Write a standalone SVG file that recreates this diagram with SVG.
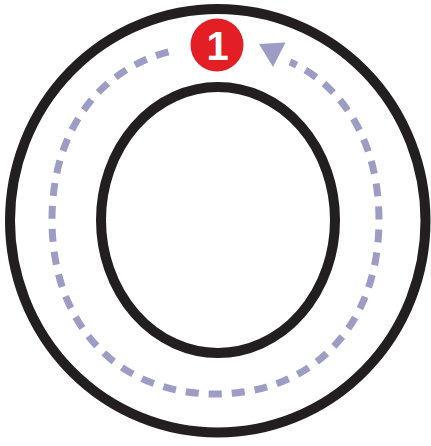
<svg xmlns="http://www.w3.org/2000/svg" width="431" height="446" viewBox="0 0 431 446">
  <style>
    .ring { fill: none; stroke: #231f20; stroke-width: 10; }
    .flow { fill: none; stroke: #9c9cc5; stroke-width: 7; stroke-dasharray: 13 10; }
    .head { fill: #9c9cc5; }
    .badge { fill: #e31e25; }
    .num { fill: #ffffff; font-family: "Liberation Sans", Arial, sans-serif; font-weight: bold; font-size: 40px; text-anchor: middle; }
  </style>
  <rect width="431" height="446" fill="#ffffff"/>
  <g id="outer-ring">
    <ellipse class="ring" cx="217.75" cy="220.75" rx="207.75" ry="211.75"/>
  </g>
  <g id="inner-ring">
    <ellipse class="ring" cx="218" cy="220" rx="117" ry="133"/>
  </g>
  <g id="connectors">
    <path class="flow" d="M168.46,51.86 C97.05,70.67 52,133.35 52,220 C52,324.4 117.4,394 215.5,394 C313.6,394 379,324.4 379,220 C379,143.79 344.15,86.12 290,62"/>
    <polygon class="head" points="259,44 285.5,42.5 273,67"/>
  </g>
  <g id="step-1">
    <circle class="badge" cx="217" cy="45" r="26.5"/>
    <text class="num" x="217.5" y="59.5">1</text>
  </g>
</svg>
